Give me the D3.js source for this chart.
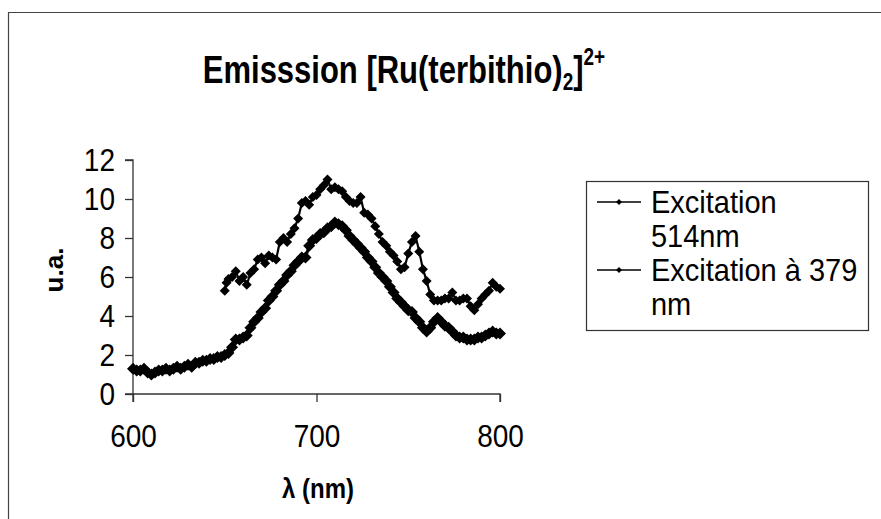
<!DOCTYPE html>
<html><head><meta charset="utf-8">
<script src="https://cdn.jsdelivr.net/npm/d3@7/dist/d3.min.js"></script>
<style>body{margin:0;background:#fff}svg{display:block}text{font-family:"Liberation Sans",Arial,sans-serif;fill:#000;transform-box:fill-box;transform-origin:center}</style>
</head><body>
<svg id="c" width="881" height="519"></svg>
<script>
const wl514 = [600,602,604,606,608,610,612,614,616,618,620,622,624,626,628,630,632,634,636,638,640,642,644,646,648,650,652,654,656,658,660,662,664,666,668,670,672,674,676,678,680,682,684,686,688,690,692,694,696,698,700,702,704,706,708,710,712,714,716,718,720,722,724,726,728,730,732,734,736,738,740,742,744,746,748,750,752,754,756,758,760,762,764,766,768,770,772,774,776,778,780,782,784,786,788,790,792,794,796,798,800];
const val514 = [1.3,1.2,1.2,1.3,1.1,1.0,1.1,1.2,1.2,1.3,1.2,1.3,1.4,1.3,1.4,1.5,1.4,1.6,1.6,1.7,1.7,1.8,1.8,1.9,1.9,2.0,2.1,2.4,2.8,2.8,2.9,3.0,3.4,3.7,3.9,4.2,4.4,4.8,5.0,5.3,5.6,5.8,6.1,6.3,6.6,6.8,7.0,7.0,7.6,7.9,8.0,8.2,8.3,8.5,8.6,8.8,8.7,8.6,8.4,8.1,7.9,7.7,7.5,7.3,7.0,6.8,6.5,6.2,6.0,5.8,5.5,5.2,4.9,4.7,4.5,4.3,4.2,3.9,3.7,3.4,3.2,3.4,3.7,3.9,3.7,3.5,3.4,3.2,3.0,2.9,2.9,2.8,2.8,2.8,2.9,2.9,3.0,3.1,3.2,3.1,3.1];
const wl379 = [650,651,652,654,656,658,660,662,664,666,668,670,672,674,676,678,680,682,684,686,688,690,692,694,696,698,700,702,704,706,708,710,712,714,716,718,720,722,724,726,728,730,732,734,736,738,740,742,744,746,748,750,752,754,756,758,760,762,764,766,768,770,772,774,776,778,780,782,784,786,788,790,792,794,796,798,800];
const val379 = [5.3,5.7,5.9,6.0,6.3,5.8,6.0,5.6,6.2,6.4,6.9,7.0,6.7,7.1,7.0,6.9,7.8,8.0,7.8,8.2,8.5,9.0,9.8,9.9,9.7,10.1,10.2,10.5,10.7,11.0,10.5,10.6,10.5,10.4,10.1,9.9,9.8,9.8,10.1,9.3,9.2,9.0,8.6,8.2,7.8,7.6,7.3,7.1,6.8,6.4,6.5,7.2,7.8,8.1,7.3,6.4,5.8,5.1,4.8,4.8,4.8,4.9,4.9,5.2,4.8,4.8,4.9,4.9,4.5,4.3,4.6,4.9,5.1,5.3,5.7,5.5,5.4];
const xTicks = [600,700,800];
const yTicks = [0,2,4,6,8,10,12];
const seriesNames = [["Excitation","514nm"],["Excitation à 379","nm"]];

const svg = d3.select("#c");
// outer frame
svg.append("path").attr("d","M8.5,519 L8.5,12.5 L881,12.5").attr("fill","none").attr("stroke","#444").attr("stroke-width",1.2);

const x = d3.scaleLinear().domain([600,800]).range([133,500]);
const y = d3.scaleLinear().domain([0,12]).range([394,160]);

// title
const t = svg.append("text").attr("x",404).attr("y",80).attr("text-anchor","middle")
  .style("font-size","31px").style("font-weight","bold").style("transform","scaleY(1.25)");
t.append("tspan").text("Emisssion [Ru(terbithio)");
t.append("tspan").text("2").style("font-size","19px").attr("dy",6);
t.append("tspan").text("]").attr("dy",-6);
t.append("tspan").text("2+").style("font-size","19px").attr("dy",-14);

// axes
const gx = svg.append("g").attr("transform","translate(0,394)")
  .call(d3.axisBottom(x).tickValues(xTicks).tickSize(8).tickPadding(24).tickFormat(d3.format("d")));
const gy = svg.append("g").attr("transform","translate(133,0)")
  .call(d3.axisLeft(y).tickValues(yTicks).tickSize(8).tickPadding(10));
[gx,gy].forEach(g=>{
  g.select(".domain").attr("stroke","#333").attr("stroke-width",1.3);
  g.selectAll(".tick line").attr("stroke","#333").attr("stroke-width",1.3);
  g.selectAll(".tick text").style("font-size","28px").style("font-family","'Liberation Sans',Arial,sans-serif")
    .style("transform","scaleY(1.12)").attr("fill","#000");
});
gx.select(".domain").attr("d","M133,8V0H500V8");
gy.select(".domain").attr("d","M-8,160H0V394H-8");

svg.append("text").attr("x",318).attr("y",497).attr("text-anchor","middle")
  .style("font-size","24px").style("font-weight","bold").style("transform","scaleY(1.12)").text("λ (nm)");
svg.append("text").attr("transform","translate(54,279) rotate(-90)").attr("text-anchor","middle")
  .style("font-size","26px").style("font-weight","bold").text("u.a.");

const diamond = r => `M0,${-r}L${r},0L0,${r}L${-r},0Z`;
const line = d3.line().x(d=>x(d[0])).y(d=>y(d[1]));
const s1 = wl514.map((w,i)=>[w,val514[i]]);
const s2 = wl379.map((w,i)=>[w,val379[i]]);
[[s1,6,3],[s2,5,2.2]].forEach(([s,r,w])=>{
  svg.append("path").datum(s).attr("d",line).attr("fill","none").attr("stroke","#000").attr("stroke-width",w);
  svg.append("g").selectAll("path").data(s).join("path")
    .attr("transform",d=>`translate(${x(d[0])},${y(d[1])})`).attr("d",diamond(r)).attr("fill","#000");
});

// legend
svg.append("rect").attr("x",586.5).attr("y",181.5).attr("width",282).attr("height",149)
  .attr("fill","none").attr("stroke","#333").attr("stroke-width",1.2);
const ly = [202,270];
seriesNames.forEach((nm,i)=>{
  svg.append("line").attr("x1",597).attr("x2",641).attr("y1",ly[i]).attr("y2",ly[i]).attr("stroke","#000").attr("stroke-width",1.5);
  svg.append("path").attr("d",diamond(3)).attr("transform",`translate(619,${ly[i]})`).attr("fill","#000");
  svg.append("text").attr("x",651).attr("y",ly[i]+10).style("font-size","29px").style("transform","scaleY(1.06)").text(nm[0]);
  svg.append("text").attr("x",651).attr("y",ly[i]+44).style("font-size","29px").style("transform","scaleY(1.06)").text(nm[1]);
});
</script>
</body></html>
